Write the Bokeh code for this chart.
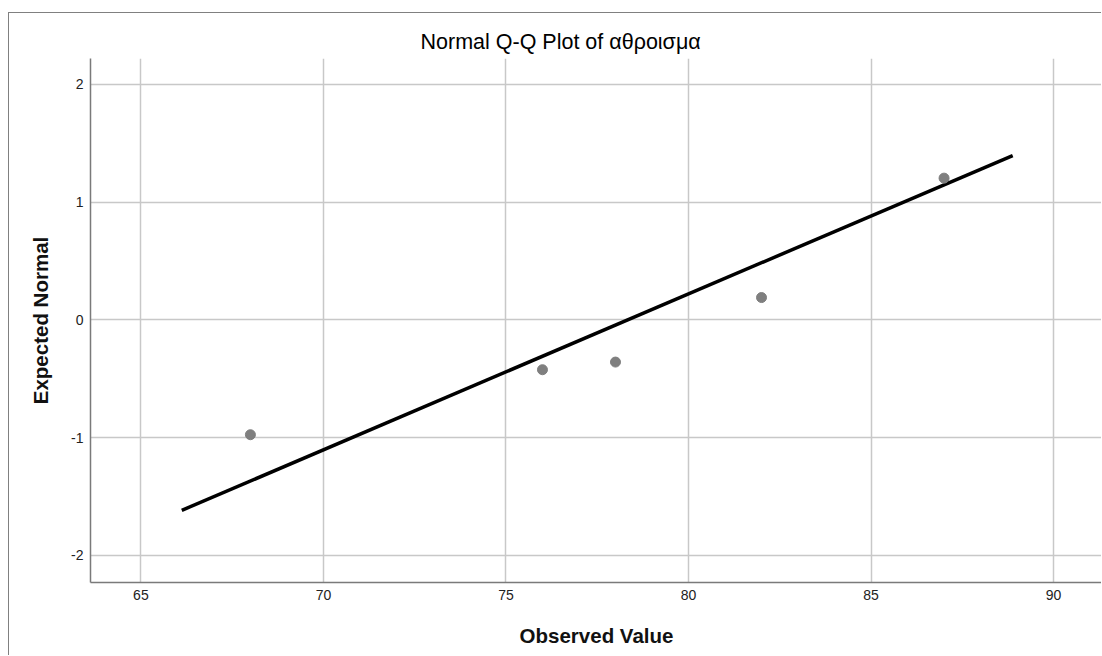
from bokeh.plotting import figure
from bokeh.models import Range1d, FixedTicker, Title, CustomJSTickFormatter
from bokeh.embed import file_html
from bokeh.resources import INLINE

# Data
observed = [68, 76, 78, 82, 87]
expected = [-0.975, -0.423, -0.358, 0.19, 1.204]
line_x = [66.12, 88.88]
line_y = [-1.617, 1.396]
x_ticks = [65, 70, 75, 80, 85, 90]
y_ticks = [-2, -1, 0, 1, 2]

FONT = "Liberation Sans"

p = figure(width=1093, height=643, output_backend="svg", toolbar_location=None,
           x_range=Range1d(63.62, 91.34), y_range=Range1d(-2.23, 2.22),
           min_border_left=81, min_border_right=0, min_border_top=45, min_border_bottom=74)
p.stylesheets = [":host { border-left: 1px solid #808080; border-top: 1px solid #808080; margin-top: 12px; margin-left: 8px; }"]

p.outline_line_color = None
p.background_fill_color = "white"
p.border_fill_color = "white"

t = Title(text="Normal Q-Q Plot of αθροισμα", align="left", offset=330,
          text_font=FONT, text_font_size="21.5px", text_font_style="normal", text_color="#000000")
p.add_layout(t, "above")

fmt = CustomJSTickFormatter(code="return tick.toString();")
for ax in (p.xaxis[0], p.yaxis[0]):
    ax.axis_line_color = "#7a7a7a"
    ax.axis_line_width = 1.5
    ax.major_tick_line_color = None
    ax.minor_tick_line_color = None
    ax.major_tick_out = 0
    ax.major_tick_in = 0
    ax.minor_tick_out = 0
    ax.major_label_text_font = FONT
    ax.major_label_text_font_size = "14px"
    ax.major_label_text_color = "#222222"
    ax.axis_label_text_font = FONT
    ax.axis_label_text_font_size = "20.5px"
    ax.axis_label_text_font_style = "bold"
    ax.axis_label_text_color = "#111111"
    ax.major_label_standoff = 7
    ax.formatter = fmt

p.xaxis.axis_label = "Observed Value"
p.yaxis.axis_label = "Expected Normal"
p.xaxis.axis_label_standoff = 21
p.yaxis.axis_label_standoff = 16
p.xaxis.ticker = FixedTicker(ticks=x_ticks)
p.yaxis.ticker = FixedTicker(ticks=y_ticks)

p.xgrid.ticker = FixedTicker(ticks=x_ticks)
p.ygrid.ticker = FixedTicker(ticks=y_ticks)
p.grid.grid_line_color = "#c8c8c8"
p.grid.grid_line_width = 1.5

p.line(line_x, line_y, line_color="black", line_width=3.5)
p.scatter(observed, expected, size=10, fill_color="#7f7f7f", line_color="#7f7f7f")

open("out.html", "w").write(file_html(p, INLINE))
